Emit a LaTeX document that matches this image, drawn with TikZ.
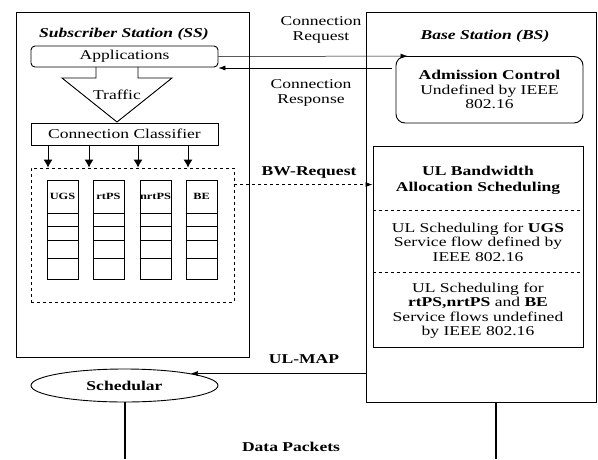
\documentclass[tikz,border=0pt]{standalone}
\usepackage{fontspec}
\setmainfont{Liberation Serif}[FakeStretch=1.3]
\usetikzlibrary{shapes.geometric,arrows.meta}

\begin{document}
\begin{tikzpicture}[>={Latex[length=7pt,width=5pt]},x=1pt,y=-1pt,
	font=\fontsize{13.5}{14.5}\selectfont,
	box/.style={draw,line width=0.9pt,align=center,inner sep=0pt},
	bold/.style={align=center,font=\fontsize{13.5}{16}\selectfont\bfseries},
	title/.style={font=\fontsize{13.5}{15}\selectfont\bfseries\itshape},
	qlabel/.style={font=\fontsize{9.5}{10}\selectfont\bfseries},
	thin/.style={line width=0.5pt}]
	\useasboundingbox (0,0) rectangle (598,459);
	% subscriber station
	\node[box,minimum width=233pt,minimum height=345pt] (ss) at (132.5,184.5) {};
	\node[title] (sstitle) at (124,34) {Subscriber Station (SS)};
	\node[box,rounded corners=4pt,minimum width=187pt,minimum height=21pt] (app) at (124.5,56.5) {Applications};
	\draw[line width=0.9pt] (96,67)--(96,78)--(62,78)--(117,122)--(172,78)--(138,78)--(138,67);
	\node (traffic) at (117,95) {Traffic};
	\node[box,minimum width=187pt,minimum height=22pt] (cc) at (124.5,134) {Connection Classifier};
	\node[box,dashed,minimum width=203pt,minimum height=134pt] (qbox) at (132.5,235) {};
	\foreach \x in {48,89,138,188}
		\draw[-{Latex[length=8pt,width=9pt]},line width=0.9pt] (cc.south -| \x,0) -- (qbox.north -| \x,0);
	% service flow queues
	\foreach \q/\x in {UGS/47,rtPS/93,nrtPS/140,BE/186}{
		\node[box,minimum width=31pt,minimum height=99pt] (q\q) at (\x+15.5,229.5) {};
		\foreach \y in {213,226,240,258}
			\draw[line width=0.6pt] (q\q.west |- 0,\y) -- (q\q.east |- 0,\y);
		\node[qlabel] at (\x+15.5,196) {\q};
	}
	% base station
	\node[box,minimum width=230pt,minimum height=390pt] (bs) at (481.5,207) {};
	\node[title] (bstitle) at (485,36) {Base Station (BS)};
	\node[box,rounded corners=9pt,minimum width=187pt,minimum height=66.5pt] (adm) at (489.5,89.75)
		{\textbf{Admission Control}\\Undefined by IEEE\\802.16};
	\node[box,minimum width=210pt,minimum height=201pt] (ulbw) at (478,246.5) {};
	\draw[dashed,line width=0.7pt] (ulbw.west |- 0,210) -- (ulbw.east |- 0,210);
	\draw[dashed,line width=0.7pt] (ulbw.west |- 0,272) -- (ulbw.east |- 0,272);
	\node[bold] (ulbwtitle) at (478,180) {UL Bandwidth\\Allocation Scheduling};
	\node[align=center] (ugs) at (478,242) {UL Scheduling for \textbf{UGS}\\Service flow defined by\\IEEE 802.16};
	\node[align=center] (others) at (478,310.5) {UL Scheduling for\\\textbf{rtPS,nrtPS} and \textbf{BE}\\Service flows undefined\\by IEEE 802.16};
	\node[box,ellipse,minimum width=187pt,minimum height=33pt,font=\fontsize{13.5}{15}\selectfont\bfseries] (sched) at (124.5,385.5) {Schedular};
	% messages between SS and BS
	\draw[->,thin] (app.east) -- ([xshift=12pt]adm.north west);
	\coordinate (resp) at (392,68);
	\draw[->,thin] (resp) -- (resp -| app.east);
	\node[align=center] (reqlbl) at (321,30) {Connection\\Request};
	\node[align=center] (resplbl) at (311,93) {Connection\\Response};
	\coordinate (bwreq) at ([yshift=-17pt]qbox.north east);
	\draw[->,dashed,line width=0.7pt] (bwreq) -- (bwreq -| ulbw.west);
	\node[bold] (bwlbl) at (309,173) {BW-Request};
	\draw[->,thin] (bs.west |- sched.north east) -- (sched.north east);
	\node[bold] (maplbl) at (304,359) {UL-MAP};
	% data path
	\draw[line width=2pt] (sched.south) -- (sched.south |- 0,459);
	\coordinate (bsout) at ([xshift=14.5pt]bs.south);
	\draw[line width=2pt] (bsout) -- (bsout |- 0,459);
	\node[bold] (datalbl) at (291,447) {Data Packets};
\end{tikzpicture}
\end{document}
